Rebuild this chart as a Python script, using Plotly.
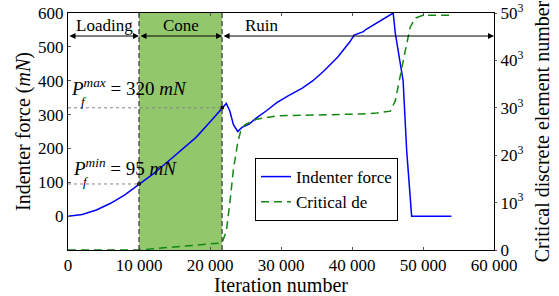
import plotly.graph_objects as go

# ---- data ----
force_x = [0, 2000, 4000, 6000, 8000, 10000, 12000, 14000, 16000, 18000, 20000, 21700,
           22300, 22800, 23300, 23900, 24500, 25500, 26600, 28000, 29400, 31000, 33000,
           34500, 36000, 38000, 39700, 40300, 41100, 41600, 42000, 42800, 44000, 45000,
           45500, 45800, 46100, 46700, 47200, 47700, 48400, 54000]
force_y = [0, 5, 18, 38, 63, 95, 125, 160, 195, 232, 278, 320,
           333, 310, 270, 250, 262, 272, 291, 312, 335, 355, 378,
           400, 428, 470, 515, 535, 541, 545, 552, 562, 578, 590,
           597, 600, 540, 470, 400, 194, 0, 0]

crit_x = [0, 10000, 21700, 22300, 22800, 23300, 23900, 24300, 24900, 26600, 29400, 33000,
          38000, 41500, 43500, 45400, 46100, 46600, 47000, 47500, 48200, 48900, 50000, 54200]
crit_y = [0, 0, 0.15, 0.4, 1.0, 1.7, 2.26, 2.5, 2.64, 2.76, 2.83, 2.84,
          2.86, 2.87, 2.89, 2.93, 3.15, 3.5, 3.8, 4.2, 4.7, 4.89, 4.95, 4.95]

x_ticks = [0, 10000, 20000, 30000, 40000, 50000, 60000]
x_ticktext = ["0", "10 000", "20 000", "30 000", "40 000", "50 000", "60 000"]
y_ticks = [0, 100, 200, 300, 400, 500, 600]
y2_ticks = [0, 1, 2, 3, 4, 5]
y2_ticktext = ["0", "10<sup>3</sup>", "20<sup>3</sup>", "30<sup>3</sup>", "40<sup>3</sup>", "50<sup>3</sup>"]

phase_bounds = [0, 10000, 21700, 60000]
phase_names = ["Loading", "Cone", "Ruin"]
phase_label_x = [5200, 15900, 27300]
pf_min = 95
pf_max = 320

FONT = "Liberation Serif, Times New Roman, serif"
FS = 17

fig = go.Figure()
fig.add_trace(go.Scatter(x=force_x, y=force_y, mode="lines", name="Indenter force",
                         line=dict(color="#0000ff", width=1.5)))
fig.add_trace(go.Scatter(x=crit_x, y=crit_y, mode="lines", name="Critical de", yaxis="y2",
                         line=dict(color="#118811", width=1.5, dash="8px,5px")))
fig.add_trace(go.Scatter(x=[phase_bounds[1], phase_bounds[2]], y=[pf_min, pf_max], mode="markers",
                         marker=dict(color="black", size=4), showlegend=False))

shapes = []
shapes.append(dict(type="rect", xref="x", yref="paper", x0=phase_bounds[1], x1=phase_bounds[2],
                   y0=0, y1=1, fillcolor="#93c76c", line=dict(width=0), layer="below"))
for xb in phase_bounds[1:3]:
    shapes.append(dict(type="line", xref="x", yref="paper", x0=xb, x1=xb, y0=0, y1=1,
                       line=dict(color="#444444", width=1.3, dash="5px,3px")))
shapes.append(dict(type="line", xref="x", yref="y", x0=0, x1=phase_bounds[1], y0=pf_min, y1=pf_min,
                   line=dict(color="#888888", width=1, dash="dot")))
shapes.append(dict(type="line", xref="x", yref="y", x0=0, x1=phase_bounds[2], y0=pf_max, y1=pf_max,
                   line=dict(color="#888888", width=1, dash="dot")))

ann = []
arrow_y = 532
for i in range(3):
    ann.append(dict(x=phase_bounds[i + 1], y=arrow_y, ax=phase_bounds[i], ay=arrow_y,
                    xref="x", yref="y", axref="x", ayref="y", text="", showarrow=True,
                    arrowhead=2, arrowside="end+start", arrowsize=1.2, arrowwidth=1, arrowcolor="black"))
    ann.append(dict(x=phase_label_x[i], y=563, xref="x", yref="y", text=phase_names[i], showarrow=False,
                    font=dict(family=FONT, size=FS, color="black")))

ann.append(dict(x=150, y=382, xref="x", yref="y", xanchor="left",
                text="<i>P</i><sup><i>max</i></sup> = 320 <i>mN</i>", showarrow=False,
                font=dict(family=FONT, size=19, color="black")))
ann.append(dict(x=2200, y=338, xref="x", yref="y", text="<i>f</i>", showarrow=False,
                font=dict(family=FONT, size=13, color="black")))
ann.append(dict(x=450, y=146, xref="x", yref="y", xanchor="left",
                text="<i>P</i><sup><i>min</i></sup> = 95 <i>mN</i>", showarrow=False,
                font=dict(family=FONT, size=19, color="black")))
ann.append(dict(x=2500, y=102, xref="x", yref="y", text="<i>f</i>", showarrow=False,
                font=dict(family=FONT, size=13, color="black")))

fig.update_layout(
    width=559, height=296,
    margin=dict(l=68, r=65, t=13, b=46),
    paper_bgcolor="white", plot_bgcolor="white",
    font=dict(family=FONT, size=FS, color="black"),
    shapes=shapes, annotations=ann,
    xaxis=dict(range=[0, 60000], tickvals=x_ticks, ticktext=x_ticktext, showgrid=False, zeroline=False,
               showline=True, linecolor="black", linewidth=1, mirror="ticks", automargin=False,
               ticks="inside", ticklen=3, tickcolor="#555555",
               title=dict(text="Iteration number", standoff=0)),
    yaxis=dict(range=[-100, 600], tickvals=y_ticks, showgrid=False, zeroline=False, automargin=False,
               showline=True, linecolor="black", linewidth=1, ticks="inside", ticklen=3,
               tickcolor="#555555",
               title=dict(text="Indenter force (<i>mN</i>)", standoff=2)),
    yaxis2=dict(range=[0, 5], tickvals=y2_ticks, ticktext=y2_ticktext, overlaying="y", side="right",
                showgrid=False, zeroline=False, showline=True, linecolor="black", linewidth=1,
                automargin=False, ticks="outside", ticklen=2, tickcolor="#555555",
                title=dict(text="Critical discrete element number", standoff=12)),
    legend=dict(x=0.439, y=0.388, xanchor="left", yanchor="top", bgcolor="white",
                bordercolor="black", borderwidth=1, font=dict(family=FONT, size=FS),
                tracegroupgap=0),
    showlegend=True,
)

fig.write_html("out.html", config={"displayModeBar": False},
               post_script="document.body.style.margin='0';document.body.style.padding='0';")
